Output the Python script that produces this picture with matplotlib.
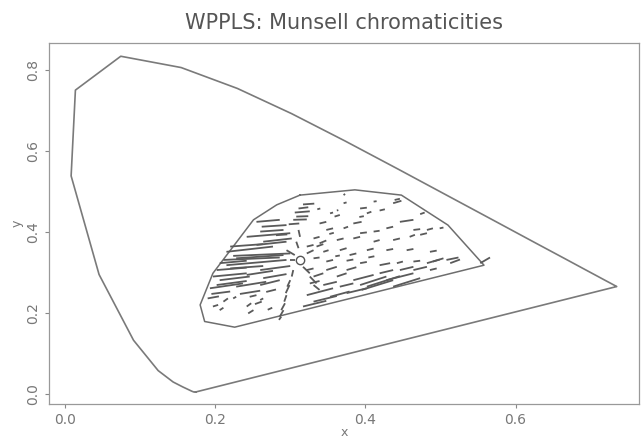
import numpy as np
import matplotlib.pyplot as plt

# CIE 1931 spectral locus, 10 nm steps (380..700 nm)
locus_x = [0.1741, 0.1738, 0.1733, 0.1726, 0.1714, 0.1689, 0.1644, 0.1566, 0.1440, 0.1241,
           0.0913, 0.0454, 0.0082, 0.0139, 0.0743, 0.1547, 0.2296, 0.3016, 0.3731, 0.4441,
           0.5125, 0.5752, 0.6270, 0.6658, 0.6915, 0.7079, 0.7190, 0.7260, 0.7300, 0.7320,
           0.7334, 0.7344, 0.7347]
locus_y = [0.0050, 0.0049, 0.0048, 0.0048, 0.0051, 0.0069, 0.0109, 0.0177, 0.0297, 0.0578,
           0.1327, 0.2950, 0.5384, 0.7502, 0.8338, 0.8059, 0.7543, 0.6923, 0.6245, 0.5547,
           0.4866, 0.4242, 0.3725, 0.3340, 0.3083, 0.2920, 0.2809, 0.2740, 0.2700, 0.2680,
           0.2666, 0.2656, 0.2653]

# outline of the Munsell chromaticities
gamut_x = [0.313, 0.386, 0.448, 0.510, 0.558, 0.226, 0.186, 0.180, 0.197, 0.251, 0.282, 0.313]
gamut_y = [0.491, 0.504, 0.491, 0.417, 0.318, 0.165, 0.179, 0.220, 0.298, 0.430, 0.467, 0.491]

white_x = 0.313
white_y = 0.331

# short segments (x0, y0, x1, y1)
segs_upper_left = [
    (0.306, 0.448, 0.326, 0.451), (0.311, 0.458, 0.324, 0.461), (0.317, 0.468, 0.332, 0.470),
    (0.308, 0.438, 0.324, 0.439), (0.304, 0.430, 0.322, 0.431), (0.255, 0.425, 0.286, 0.430),
    (0.262, 0.413, 0.295, 0.417), (0.260, 0.401, 0.291, 0.405), (0.242, 0.388, 0.300, 0.397),
    (0.264, 0.376, 0.302, 0.384), (0.255, 0.368, 0.295, 0.376), (0.220, 0.364, 0.264, 0.370),
    (0.215, 0.351, 0.277, 0.364), (0.298, 0.419, 0.312, 0.421), (0.281, 0.392, 0.296, 0.394),
]
segs_left = [
    (0.224, 0.341, 0.300, 0.347), (0.211, 0.331, 0.286, 0.337), (0.215, 0.318, 0.295, 0.331),
    (0.220, 0.310, 0.264, 0.316), (0.202, 0.306, 0.242, 0.312), (0.260, 0.306, 0.300, 0.316),
    (0.197, 0.290, 0.242, 0.298), (0.242, 0.294, 0.277, 0.304), (0.193, 0.261, 0.237, 0.273),
    (0.202, 0.269, 0.242, 0.279), (0.228, 0.265, 0.268, 0.277), (0.264, 0.286, 0.295, 0.296),
    (0.195, 0.247, 0.220, 0.253), (0.233, 0.247, 0.260, 0.255), (0.260, 0.269, 0.286, 0.281),
    (0.206, 0.323, 0.242, 0.329), (0.228, 0.335, 0.291, 0.343), (0.206, 0.281, 0.246, 0.290),
    (0.197, 0.216, 0.204, 0.220), (0.206, 0.207, 0.211, 0.213), (0.242, 0.216, 0.248, 0.224),
    (0.244, 0.199, 0.251, 0.207), (0.260, 0.232, 0.264, 0.236), (0.246, 0.240, 0.255, 0.244),
    (0.211, 0.228, 0.217, 0.236), (0.224, 0.236, 0.228, 0.240), (0.190, 0.236, 0.205, 0.241),
    (0.268, 0.252, 0.281, 0.258), (0.253, 0.222, 0.262, 0.228), (0.270, 0.208, 0.276, 0.213),
]
segs_upper = [
    (0.371, 0.491, 0.373, 0.494), (0.371, 0.471, 0.375, 0.473), (0.362, 0.453, 0.364, 0.454),
    (0.359, 0.438, 0.366, 0.442), (0.393, 0.458, 0.402, 0.460), (0.411, 0.475, 0.415, 0.476),
    (0.419, 0.453, 0.426, 0.456), (0.437, 0.471, 0.448, 0.477), (0.439, 0.479, 0.446, 0.482),
    (0.339, 0.421, 0.348, 0.425), (0.348, 0.405, 0.357, 0.409), (0.371, 0.409, 0.377, 0.413),
    (0.384, 0.421, 0.395, 0.425), (0.393, 0.397, 0.402, 0.399), (0.411, 0.401, 0.419, 0.403),
    (0.428, 0.409, 0.437, 0.413), (0.446, 0.425, 0.464, 0.430), (0.473, 0.444, 0.479, 0.448),
    (0.464, 0.405, 0.473, 0.407), (0.482, 0.405, 0.490, 0.409), (0.499, 0.409, 0.504, 0.411),
    (0.331, 0.384, 0.339, 0.388), (0.339, 0.372, 0.348, 0.379), (0.362, 0.380, 0.371, 0.384),
    (0.384, 0.384, 0.393, 0.388), (0.411, 0.376, 0.419, 0.380), (0.437, 0.380, 0.446, 0.384),
    (0.459, 0.388, 0.466, 0.393), (0.473, 0.393, 0.482, 0.397), (0.322, 0.364, 0.331, 0.368),
    (0.344, 0.351, 0.351, 0.355), (0.366, 0.355, 0.375, 0.360), (0.379, 0.343, 0.388, 0.347),
    (0.402, 0.355, 0.411, 0.359), (0.428, 0.355, 0.437, 0.358), (0.455, 0.355, 0.464, 0.358),
    (0.486, 0.351, 0.495, 0.354), (0.353, 0.446, 0.357, 0.448), (0.402, 0.446, 0.408, 0.450),
    (0.336, 0.456, 0.340, 0.458), (0.352, 0.395, 0.358, 0.398), (0.392, 0.437, 0.398, 0.439),
]
segs_right = [
    (0.464, 0.327, 0.473, 0.329), (0.482, 0.323, 0.499, 0.332), (0.490, 0.327, 0.504, 0.335),
    (0.508, 0.331, 0.524, 0.337), (0.513, 0.323, 0.526, 0.332), (0.331, 0.335, 0.339, 0.337),
    (0.348, 0.327, 0.357, 0.331), (0.375, 0.329, 0.384, 0.332), (0.393, 0.323, 0.402, 0.326),
    (0.419, 0.318, 0.433, 0.323), (0.442, 0.323, 0.450, 0.327), (0.553, 0.323, 0.566, 0.337),
    (0.360, 0.340, 0.366, 0.342), (0.404, 0.337, 0.412, 0.340),
]
segs_lower = [
    (0.322, 0.306, 0.331, 0.310), (0.331, 0.290, 0.344, 0.298), (0.348, 0.306, 0.362, 0.314),
    (0.362, 0.290, 0.375, 0.298), (0.375, 0.306, 0.388, 0.313), (0.384, 0.281, 0.411, 0.294),
    (0.393, 0.269, 0.428, 0.290), (0.395, 0.257, 0.437, 0.281), (0.402, 0.265, 0.446, 0.291),
    (0.419, 0.298, 0.437, 0.306), (0.428, 0.281, 0.464, 0.298), (0.446, 0.306, 0.464, 0.314),
    (0.437, 0.265, 0.473, 0.286), (0.366, 0.265, 0.384, 0.273), (0.344, 0.269, 0.362, 0.277),
    (0.326, 0.273, 0.339, 0.279), (0.322, 0.244, 0.357, 0.261), (0.317, 0.216, 0.348, 0.230),
    (0.331, 0.228, 0.362, 0.242), (0.353, 0.240, 0.379, 0.253), (0.375, 0.249, 0.402, 0.261),
    (0.464, 0.306, 0.482, 0.314), (0.486, 0.306, 0.495, 0.310),
]
segs_spokes = [
    (0.304, 0.306, 0.302, 0.290), (0.300, 0.281, 0.296, 0.265), (0.299, 0.269, 0.294, 0.249),
    (0.295, 0.244, 0.292, 0.228), (0.293, 0.224, 0.288, 0.207), (0.291, 0.207, 0.286, 0.191),
    (0.288, 0.191, 0.285, 0.183), (0.317, 0.314, 0.326, 0.298), (0.326, 0.290, 0.335, 0.273),
    (0.331, 0.269, 0.339, 0.257), (0.306, 0.343, 0.295, 0.355), (0.311, 0.360, 0.308, 0.376),
    (0.313, 0.388, 0.311, 0.405), (0.322, 0.347, 0.331, 0.355), (0.335, 0.364, 0.344, 0.370),
    (0.300, 0.332, 0.306, 0.332),
]

x_ticks = [0.0, 0.2, 0.4, 0.6]
y_ticks = [0.0, 0.2, 0.4, 0.6, 0.8]

fig = plt.figure(figsize=(6.41, 4.38), dpi=100)
ax = fig.add_axes([0.0764, 0.0776, 0.9206, 0.8244])

ax.plot(locus_x + [locus_x[0]], locus_y + [locus_y[0]], color='#7a7a7a', lw=1.2)
ax.plot(gamut_x, gamut_y, color='#6e6e6e', lw=1.1)

for group in [segs_upper_left, segs_left, segs_upper, segs_right, segs_lower, segs_spokes]:
    for s in group:
        ax.plot([s[0], s[2]], [s[1], s[3]], color='#5a5a5a', lw=1.3, solid_capstyle='butt')

ax.plot(white_x, white_y, 'o', ms=6, mfc='none', mec='#555555', mew=1.0)

ax.set_xlim(-0.0213, 0.7645)
ax.set_ylim(-0.0247, 0.8667)
ax.set_xticks(x_ticks)
ax.set_yticks(y_ticks)
ax.set_xticklabels([f'{t:.1f}' for t in x_ticks])
ax.set_yticklabels([f'{t:.1f}' for t in y_ticks], rotation=90, va='center')
ax.tick_params(colors='#888888', labelcolor='#777777', labelsize=10, length=3, width=0.8)
for sp in ax.spines.values():
    sp.set_color('#999999')
    sp.set_linewidth(0.9)

ax.set_xlabel('x', color='#777777', fontsize=9, labelpad=-1)
ax.set_ylabel('y', color='#777777', fontsize=9, labelpad=2)
ax.set_title('WPPLS: Munsell chromaticities', color='#555555', fontsize=15, pad=10)

plt.savefig('out.png', dpi=100)
